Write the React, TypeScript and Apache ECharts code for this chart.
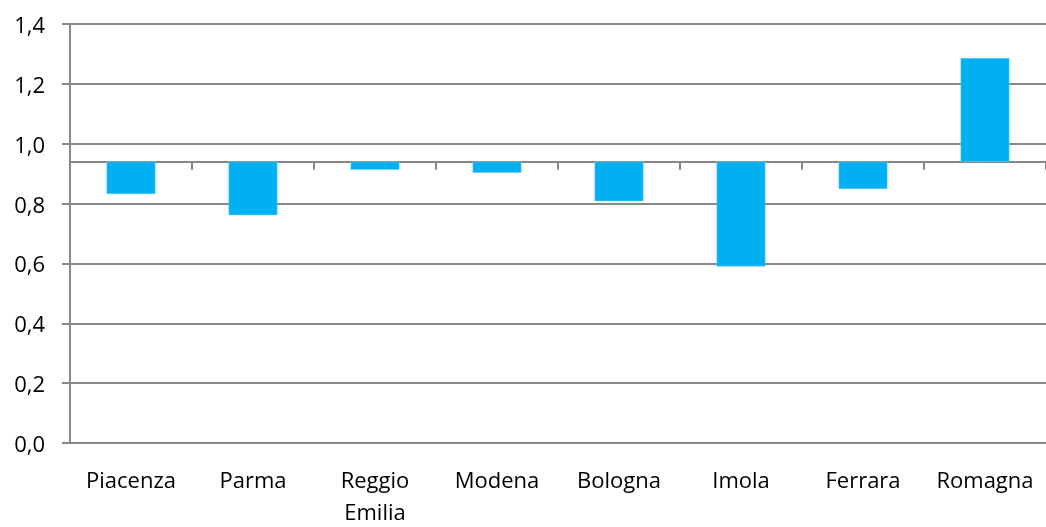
import React, { useEffect, useRef } from "react";
import * as echarts from "echarts";

const categories = ["Piacenza", "Parma", "Reggio\nEmilia", "Modena", "Bologna", "Imola", "Ferrara", "Romagna"];
const values = [0.832, 0.761, 0.913, 0.903, 0.808, 0.59, 0.849, 1.286];
const baseline = 0.94;
const yMin = 0;
const yMax = 1.4;
const yStep = 0.2;

const GRID = "#888888";
const FONT = "'Open Sans', sans-serif";

export default function App() {
  const ref = useRef<HTMLDivElement>(null);
  useEffect(() => {
    document.body.style.margin = "0";
    document.body.style.overflow = "hidden";
    document.documentElement.style.overflow = "hidden";
    const chart = echarts.init(ref.current!, null, { renderer: "svg" });
    chart.setOption({
      animation: false,
      grid: { left: 70, top: 24, width: 987, height: 425, containLabel: false },
      xAxis: [
        {
          type: "category",
          data: categories,
          position: "bottom",
          boundaryGap: true,
          axisLine: { show: true, onZero: true, onZeroAxisIndex: 1, lineStyle: { color: GRID, width: 2 } },
          axisTick: { show: true, length: 8, alignWithLabel: false, lineStyle: { color: GRID, width: 2 } },
          axisLabel: { show: false },
          splitLine: { show: false },
        },
        {
          type: "category",
          data: categories,
          position: "bottom",
          axisLine: { show: false, onZero: false },
          axisTick: { show: false },
          axisLabel: {
            show: true,
            interval: 0,
            margin: 20,
            color: "#000",
            fontFamily: FONT,
            fontSize: 22,
            lineHeight: 32,
          },
          splitLine: { show: false },
        },
      ],
      yAxis: [
        {
          type: "value",
          min: yMin,
          max: yMax,
          interval: yStep,
          axisLine: { show: true, lineStyle: { color: GRID, width: 2 } },
          axisTick: { show: true, length: 8, lineStyle: { color: GRID, width: 2 } },
          axisLabel: {
            margin: 25,
            color: "#000",
            fontFamily: FONT,
            fontSize: 22,
            formatter: (v: number) => v.toFixed(1).replace(".", ","),
          },
          splitLine: { show: true, lineStyle: { color: GRID, width: 2 } },
        },
        {
          type: "value",
          min: yMin - baseline,
          max: yMax - baseline,
          show: false,
          splitLine: { show: false },
        },
      ],
      series: [
        {
          type: "bar",
          xAxisIndex: 0,
          yAxisIndex: 1,
          data: values.map((v) => v - baseline),
          barWidth: "40%",
          itemStyle: { color: "#00b0f0", borderColor: "#6fd0f5", borderWidth: 0.5 },
          z: 1,
        },
      ],
    });
    return () => chart.dispose();
  }, []);
  return (
    <div
      ref={ref}
      style={{ position: "fixed", left: 0, top: 0, width: 1046, height: 527, overflow: "hidden" }}
    />
  );
}
